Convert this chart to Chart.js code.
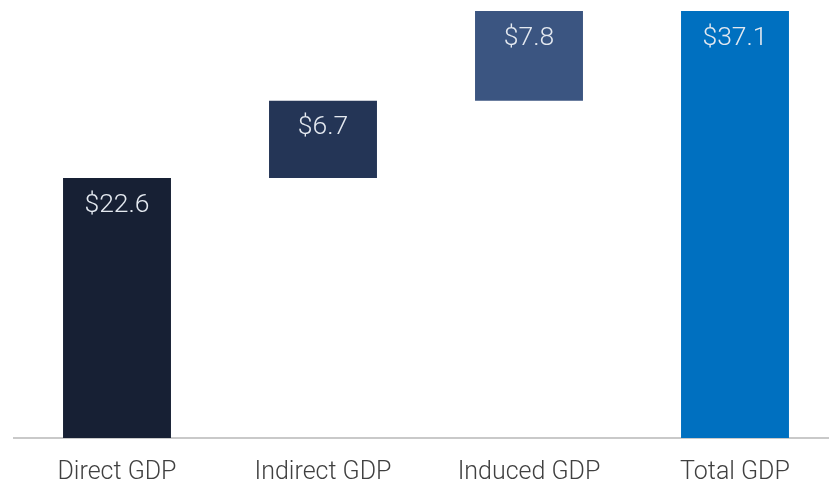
<!DOCTYPE html>
<html>
<head>
<meta charset="utf-8">
<script src="https://cdn.jsdelivr.net/npm/chart.js@4/dist/chart.umd.min.js"></script>
<style>
  html, body { margin: 0; padding: 0; background: #ffffff; overflow: hidden; }
  #wrap { position: relative; width: 838px; height: 487px; }
</style>
</head>
<body>
<div id="wrap"><canvas id="gdp"></canvas></div>
<script>
// GDP contribution components (US$ billions) and their total
const categories = ['Direct GDP', 'Indirect GDP', 'Induced GDP', 'Total GDP'];
const contributions = [22.6, 6.7, 7.8];
const total = 37.1;
const barColors = ['#172034', '#243556', '#3b5581', '#0070c0'];

// Waterfall: each component floats on the running sum, total starts at zero
const floating = [];
let running = 0;
contributions.forEach(v => {
  floating.push([running, +(running + v).toFixed(1)]);
  running += v;
});
floating.push([0, total]);
const shownValues = contributions.concat([total]);

const valueLabels = {
  id: 'valueLabels',
  afterDatasetsDraw(chart) {
    const { ctx } = chart;
    const meta = chart.getDatasetMeta(0);
    ctx.save();
    ctx.font = '300 26.5px Roboto';
    ctx.fillStyle = '#e4e9f0';
    ctx.textAlign = 'center';
    ctx.textBaseline = 'middle';
    meta.data.forEach((bar, i) => {
      const top = Math.min(bar.y, bar.base);
      ctx.fillText('$' + shownValues[i].toFixed(1), bar.x, top + 27);
    });
    ctx.restore();
  }
};

new Chart(document.getElementById('gdp'), {
  type: 'bar',
  data: {
    labels: categories,
    datasets: [{
      data: floating,
      backgroundColor: barColors,
      borderWidth: 0,
      categoryPercentage: 1,
      barPercentage: 0.524
    }]
  },
  options: {
    responsive: true,
    maintainAspectRatio: false,
    animation: false,
    layout: { padding: { top: 11, left: 14, right: 0, bottom: 0 } },
    plugins: { legend: { display: false }, tooltip: { enabled: false } },
    scales: {
      x: {
        grid: { display: false, drawTicks: false },
        border: { display: true, color: '#c9c9c9', width: 2 },
        ticks: { color: '#404040', font: { family: 'Roboto', weight: '300', size: 25 }, padding: 20 },
        afterFit(axis) { axis.height = 49; }
      },
      y: {
        display: false,
        min: 0,
        max: total
      }
    }
  },
  plugins: [valueLabels]
});
</script>
</body>
</html>
